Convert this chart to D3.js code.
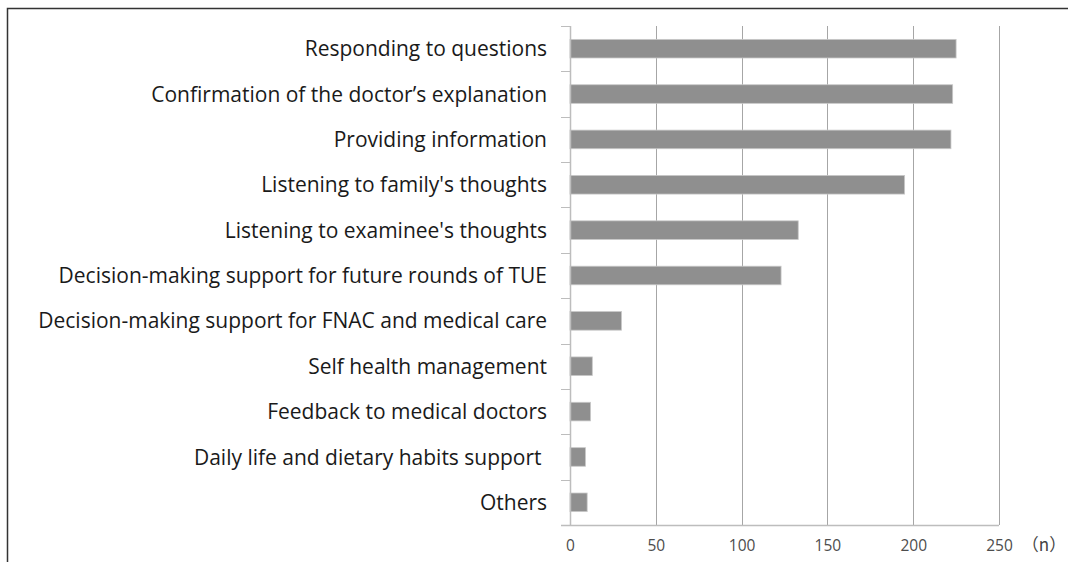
<!DOCTYPE html>
<html>
<head>
<meta charset="utf-8">
<script src="https://cdn.jsdelivr.net/npm/d3@7"></script>
<style>
  body { margin: 0; background: #fff; }
  svg { display: block; }
  text.cat { white-space: pre; }
</style>
</head>
<body>
<div id="chart"></div>
<script>
// data
const categories = [
  "Responding to questions",
  "Confirmation of the doctor\u2019s explanation",
  "Providing information",
  "Listening to family's thoughts",
  "Listening to examinee's thoughts",
  "Decision-making support for future rounds of TUE",
  "Decision-making support for FNAC and medical care",
  "Self health management",
  "Feedback to medical doctors",
  "Daily life and dietary habits support ",
  "Others"
];
const counts = [225, 223, 222, 195, 133, 123, 30, 13, 12, 9, 10];
const xTicks = [0, 50, 100, 150, 200, 250];
const unitLabel = "\uFF08n\uFF09";

const width = 1068, height = 562;
const plot = {left: 570, right: 999, top: 26, bottom: 525};
const labelFont = "'Open Sans', 'Noto Sans', sans-serif";

const svg = d3.select("#chart").append("svg")
  .attr("width", width)
  .attr("height", height);

// frame lines (top and left only, as cropped in the reference)
svg.append("path")
  .attr("d", `M7.5,${height} V8.5 H${width}`)
  .attr("fill", "none")
  .attr("stroke", "#333")
  .attr("stroke-width", 1.5);

const x = d3.scaleLinear().domain([0, 250]).range([plot.left, plot.right]);
const y = d3.scaleBand().domain(categories).range([plot.top, plot.bottom]).paddingInner(0.59).paddingOuter(0.295);

// vertical gridlines
svg.append("g")
  .selectAll("line")
  .data(xTicks.slice(1))
  .enter().append("line")
  .attr("x1", d => Math.round(x(d)) + 0.5)
  .attr("x2", d => Math.round(x(d)) + 0.5)
  .attr("y1", plot.top)
  .attr("y2", plot.bottom)
  .attr("stroke", "#a6a6a6")
  .attr("stroke-width", 1);

// bars
svg.append("g")
  .selectAll("rect")
  .data(counts)
  .enter().append("rect")
  .attr("x", x(0))
  .attr("y", (d, i) => y(categories[i]))
  .attr("width", d => x(d) - x(0))
  .attr("height", y.bandwidth())
  .attr("fill", "#8f8f8f")
  .attr("stroke", "#c8c8c8")
  .attr("stroke-width", 0.8);

// left category axis with ticks at band boundaries
const step = y.step();
const boundaries = d3.range(categories.length + 1).map(i => plot.top + i * step);
const leftAxis = svg.append("g");
leftAxis.append("line")
  .attr("x1", plot.left + 0.5).attr("x2", plot.left + 0.5)
  .attr("y1", plot.top).attr("y2", plot.bottom)
  .attr("stroke", "#bdbdbd").attr("stroke-width", 1.5);
leftAxis.selectAll("line.tick")
  .data(boundaries)
  .enter().append("line")
  .attr("class", "tick")
  .attr("x1", plot.left - 9).attr("x2", plot.left)
  .attr("y1", d => Math.round(d) + 0.5).attr("y2", d => Math.round(d) + 0.5)
  .attr("stroke", "#bdbdbd");

const labels = leftAxis.selectAll("text")
  .data(categories)
  .enter().append("text")
  .attr("class", "cat")
  .attr("x", plot.left - 23)
  .attr("y", d => y(d) + y.bandwidth() / 2)
  .attr("dy", "0.36em")
  .attr("text-anchor", "end")
  .attr("font-family", labelFont)
  .attr("font-size", 17)
  .attr("fill", "#1a1a1a")
  .text(d => d);

// the reference font is wider than what is installed, so size the labels so
// that the longest one spans the same 509px it does in the picture
const longest = d3.max(labels.nodes(), n => n.getComputedTextLength());
labels.attr("font-size", 17 * 509 / longest);

// bottom axis
const xAxis = d3.axisBottom(x).tickValues(xTicks).tickSize(0).tickPadding(15);
const gx = svg.append("g")
  .attr("transform", `translate(0,${plot.bottom})`)
  .call(xAxis);
gx.select(".domain")
  .attr("stroke", "#bdbdbd")
  .attr("stroke-width", 1.5)
  .attr("d", `M${plot.left - 9},0.5H${plot.right}`);
gx.selectAll("text")
  .attr("font-family", labelFont)
  .attr("font-size", 15.5)
  .attr("fill", "#4d4d4d");

svg.append("text")
  .attr("x", 1044)
  .attr("y", plot.bottom + 14)
  .attr("dy", "0.71em")
  .attr("text-anchor", "middle")
  .attr("font-family", "'Noto Sans CJK JP', sans-serif")
  .attr("font-size", 17)
  .attr("fill", "#444")
  .text(unitLabel);
</script>
</body>
</html>
